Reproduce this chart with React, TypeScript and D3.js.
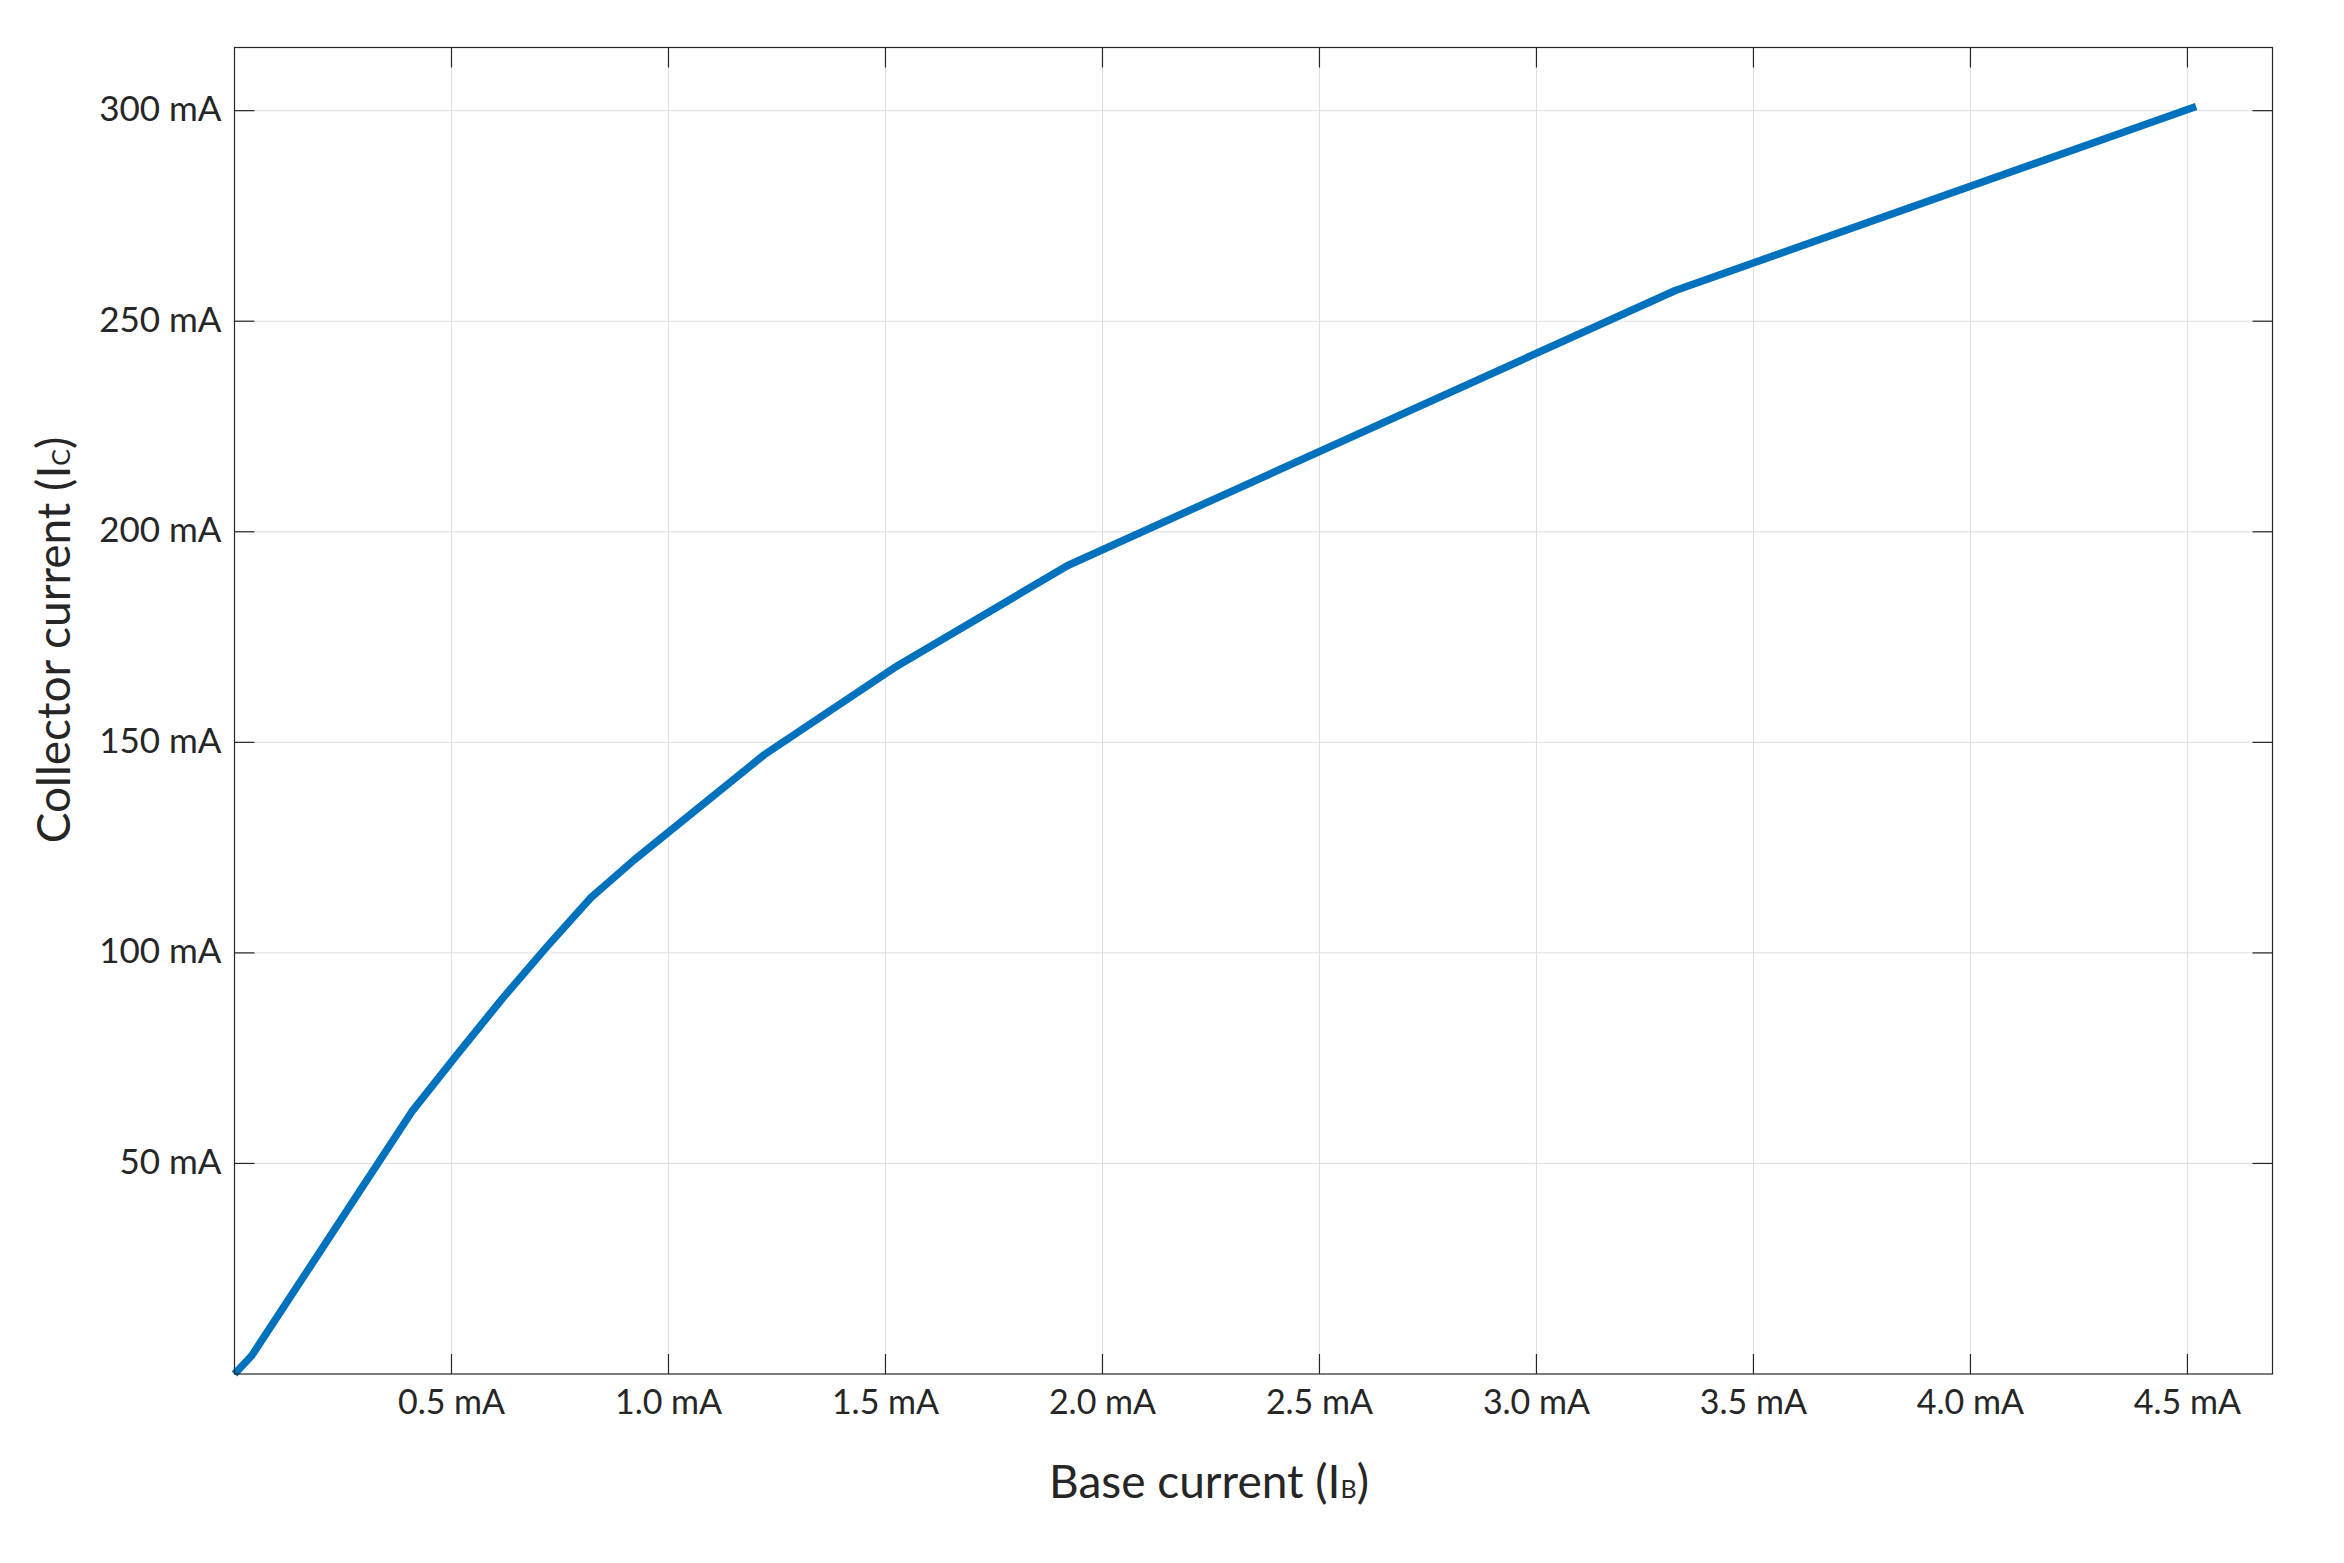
import React from "react";
import * as d3 from "d3";

const baseCurrent = [0, 0.04, 0.41, 0.51, 0.62, 0.72, 0.82, 0.92, 1.22, 1.52, 1.92, 3.32, 4.52];
const collectorCurrent = [0, 4.4, 62.5, 75.5, 89.5, 101.5, 113, 122, 147, 167.7, 192, 257.3, 301];
const xTicks = [0.5, 1.0, 1.5, 2.0, 2.5, 3.0, 3.5, 4.0, 4.5];
const yTicks = [50, 100, 150, 200, 250, 300];
const xTickLabels = ["0.5 mA", "1.0 mA", "1.5 mA", "2.0 mA", "2.5 mA", "3.0 mA", "3.5 mA", "4.0 mA", "4.5 mA"];
const yTickLabels = ["50 mA", "100 mA", "150 mA", "200 mA", "250 mA", "300 mA"];

const W = 2344;
const H = 1563;
const L = 234.5;
const R = 2272.5;
const T = 47.5;
const B = 1374;
const FONT = "Lato, 'Open Sans', sans-serif";
const AXIS = "#262626";

export default function App() {
  const x = d3.scaleLinear().domain([0, 4.696]).range([L, R]);
  const y = d3.scaleLinear().domain([0, 315]).range([B, T]);
  const pts = baseCurrent.map((v, i) => [v, collectorCurrent[i]] as [number, number]);
  const line = d3
    .line<[number, number]>()
    .x((d) => x(d[0]))
    .y((d) => y(d[1]));
  const tickLen = 20;

  return (
    <svg
      width={W}
      height={H}
      style={{ position: "absolute", left: 0, top: 0, background: "#fff" }}
      fontFamily={FONT}
    >
      <rect x={0} y={0} width={W} height={H} fill="#fff" />
      {/* grid */}
      {xTicks.map((t) => (
        <line key={"gx" + t} x1={x(t)} x2={x(t)} y1={T} y2={B} stroke="#dedede" strokeWidth={1} />
      ))}
      {yTicks.map((t) => (
        <line key={"gy" + t} x1={L} x2={R} y1={y(t)} y2={y(t)} stroke="#dedede" strokeWidth={1} />
      ))}
      {/* curve */}
      <path
        d={line(pts) || ""}
        fill="none"
        stroke="#0072BD"
        strokeWidth={7.5}
        strokeLinejoin="round"
        strokeLinecap="butt"
      />
      {/* box */}
      <rect x={L} y={T} width={R - L} height={B - T} fill="none" stroke={AXIS} strokeWidth={1.2} />
      {/* ticks */}
      {xTicks.map((t) => (
        <g key={"tx" + t}>
          <line x1={x(t)} x2={x(t)} y1={B} y2={B - tickLen} stroke={AXIS} strokeWidth={1.2} />
          <line x1={x(t)} x2={x(t)} y1={T} y2={T + tickLen} stroke={AXIS} strokeWidth={1.2} />
        </g>
      ))}
      {yTicks.map((t) => (
        <g key={"ty" + t}>
          <line x1={L} x2={L + tickLen} y1={y(t)} y2={y(t)} stroke={AXIS} strokeWidth={1.2} />
          <line x1={R} x2={R - tickLen} y1={y(t)} y2={y(t)} stroke={AXIS} strokeWidth={1.2} />
        </g>
      ))}
      {/* tick labels */}
      {xTicks.map((t, i) => (
        <text key={"lx" + t} x={x(t)} y={B + 40} textAnchor="middle" fontSize={34} fill={AXIS}>
          {xTickLabels[i]}
        </text>
      ))}
      {yTicks.map((t, i) => (
        <text key={"ly" + t} x={L - 13} y={y(t) + 10.5} textAnchor="end" fontSize={35} fill={AXIS}>
          {yTickLabels[i]}
        </text>
      ))}
      {/* axis labels */}
      <text x={1209} y={1498} textAnchor="middle" fontSize={46} fill={AXIS}>
        Base current (I<tspan fontSize={25}>B</tspan>)
      </text>
      <text
        transform={`translate(70, 640) rotate(-90)`}
        textAnchor="middle"
        fontSize={46}
        fill={AXIS}
      >
        Collector current (I<tspan fontSize={25}>C</tspan>)
      </text>
    </svg>
  );
}
